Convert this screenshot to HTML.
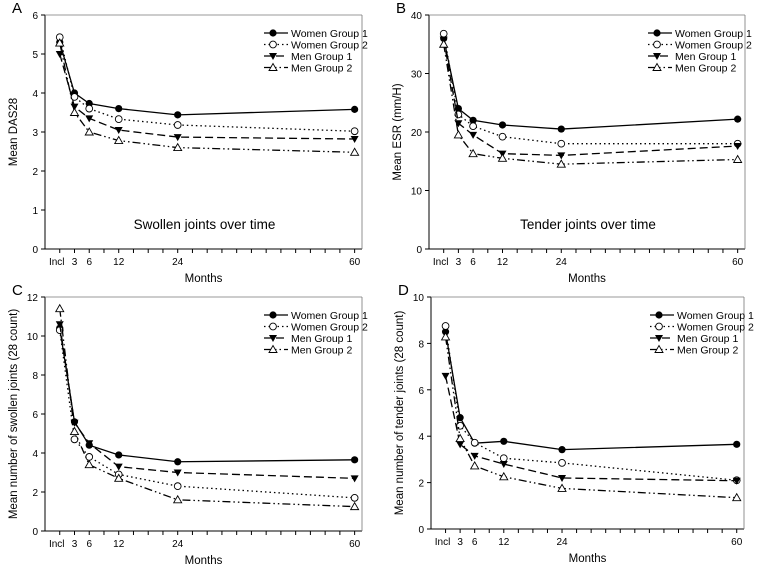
<!DOCTYPE html>
<html><head><meta charset="utf-8"><style>
html,body{margin:0;padding:0;background:#fff;}
svg{display:block;font-family:"Liberation Sans",Arial,sans-serif;}
</style></head><body>
<svg id="fig" width="764" height="564" viewBox="0 0 764 564"></svg>
<script>
const months=[0,3,6,12,24,60];
const monthLabels=["Incl","3","6","12","24","60"];
const seriesNames=["Women Group 1","Women Group 2","Men Group 1","Men Group 2"];
const aW1=[5.3,4.0,3.73,3.6,3.44,3.58];
const aW2=[5.43,3.9,3.6,3.33,3.18,3.02];
const aM1=[5.0,3.65,3.35,3.05,2.87,2.82];
const aM2=[5.28,3.5,3.0,2.78,2.6,2.48];
const bW1=[36,24,22,21.2,20.5,22.2];
const bW2=[36.8,23,21,19.2,18,18];
const bM1=[35.8,21.5,19.5,16.3,16,17.6];
const bM2=[35,19.5,16.3,15.5,14.5,15.3];
const cW1=[10.4,5.6,4.4,3.9,3.55,3.65];
const cW2=[10.3,4.7,3.8,2.9,2.3,1.7];
const cM1=[10.6,5.55,4.5,3.3,3.0,2.7];
const cM2=[11.4,5.1,3.4,2.7,1.6,1.25];
const dW1=[8.5,4.8,3.7,3.78,3.42,3.65];
const dW2=[8.75,4.45,3.72,3.05,2.85,2.1];
const dM1=[6.6,3.65,3.15,2.8,2.2,2.08];
const dM2=[8.28,3.9,2.72,2.25,1.75,1.35];
const aTicks=[0,1,2,3,4,5,6];
const bTicks=[0,10,20,30,40];
const cTicks=[0,2,4,6,8,10,12];
const dTicks=[0,2,4,6,8,10];

const NS="http://www.w3.org/2000/svg";
const svg=document.getElementById('fig');
function mk(tag,attrs,parent){const e=document.createElementNS(NS,tag);for(const k in attrs)e.setAttribute(k,attrs[k]);(parent||svg).appendChild(e);return e;}
const dashes=["","1.5,3","8,4","8,3,1.5,3,1.5,3"];
function marker(g,i,x,y){
  let m;
  if(i===0){m=mk('circle',{cx:x,cy:y,r:3.6,fill:'#000'},g);}
  else if(i===1){m=mk('circle',{cx:x,cy:y,r:3.4,fill:'#fff',stroke:'#000','stroke-width':0.9},g);}
  else if(i===2){m=mk('path',{d:`M${x-4},${y-3}L${x+4},${y-3}L${x},${y+4}Z`,fill:'#000'},g);}
  else {m=mk('path',{d:`M${x-4},${y+3}L${x+4},${y+3}L${x},${y-4}Z`,fill:'#fff',stroke:'#000','stroke-width':0.9},g);}
  return m;
}
function panel(name,letter,L,T,R,B,ymax,ticks,series,ylab,title,titleY){
  const g=mk('g',{});
  
  
  const x=m=>L+(m+3)/64.5*(R-L);
  const y=v=>B-v/ymax*(B-T);
  const lt=mk('text',{x:L-33,y:T-2,'font-size':15},g);lt.textContent=letter;
  
  const ax=mk('path',{d:`M${L},${T}L${L},${B}L${R},${B}`,fill:'none',stroke:'#000','stroke-width':1},g);
  
  mk('line',{x1:L,y1:T,x2:R,y2:T,stroke:'#777','stroke-width':0.8},g);
  mk('line',{x1:R,y1:T,x2:R,y2:B,stroke:'#777','stroke-width':0.8},g);
  ticks.forEach(t=>{
    mk('line',{x1:L-4,y1:y(t),x2:L,y2:y(t),stroke:'#000'},g);
    const tx=mk('text',{x:L-7,y:y(t)+4,'font-size':10,'text-anchor':'end'},g);tx.textContent=t;
    
  });
  for(let m=0;m<=60;m+=3){mk('line',{x1:x(m),y1:B,x2:x(m),y2:B+4,stroke:'#000'},g);}
  months.forEach((m,i)=>{
    const tx=mk('text',{x:x(m)+(i===0?-3:0),y:B+16,'font-size':10,'text-anchor':'middle'},g);tx.textContent=monthLabels[i];
    
  });
  const xl=mk('text',{x:(L+R)/2,y:B+33,'font-size':11.5,'text-anchor':'middle'},g);xl.textContent='Months';
  
  const yc=(T+B)/2;
  const yl=mk('text',{x:L-28,y:yc,'font-size':11.5,'text-anchor':'middle',transform:`rotate(-90 ${L-28} ${yc})`},g);yl.textContent=ylab;
  
  if(title){const tt=mk('text',{x:(L+R)/2+1,y:titleY,'font-size':13.5,'text-anchor':'middle'},g);tt.textContent=title;
    }
  series.forEach((vals,i)=>{
    const pts=vals.map((v,j)=>`${x(months[j])},${y(v)}`).join(' ');
    const pl=mk('polyline',{points:pts,fill:'none',stroke:'#000','stroke-width':1.3,'stroke-dasharray':dashes[i]},g);
    
    vals.forEach((v,j)=>{const mm=marker(g,i,x(months[j]),y(v));
      });
  });
  seriesNames.forEach((n,i)=>{
    const ly=T+18+i*11.5;
    const lx=L+219;
    const le=mk('g',{},g);
    
    mk('line',{x1:lx,y1:ly,x2:lx+24,y2:ly,stroke:'#000','stroke-width':1.3,'stroke-dasharray':dashes[i]},le);
    marker(le,i,lx+9,ly);
    const t=mk('text',{x:lx+27,y:ly+4,'font-size':10.5},le);t.textContent=n;
  });
}
panel('panel-a-das28','A',45,15,362,249,6,aTicks,[aW1,aW2,aM1,aM2],'Mean DAS28','Swollen joints over time',229);
panel('panel-b-esr','B',429,15,745,249,40,bTicks,[bW1,bW2,bM1,bM2],'Mean ESR (mm/H)','Tender joints over time',229);
panel('panel-c-swollen','C',45,297,362,531,12,cTicks,[cW1,cW2,cM1,cM2],'Mean number of swollen joints (28 count)','',0);
panel('panel-d-tender','D',431,297,744,529,10,dTicks,[dW1,dW2,dM1,dM2],'Mean number of tender joints (28 count)','',0);
</script>
</body></html>
